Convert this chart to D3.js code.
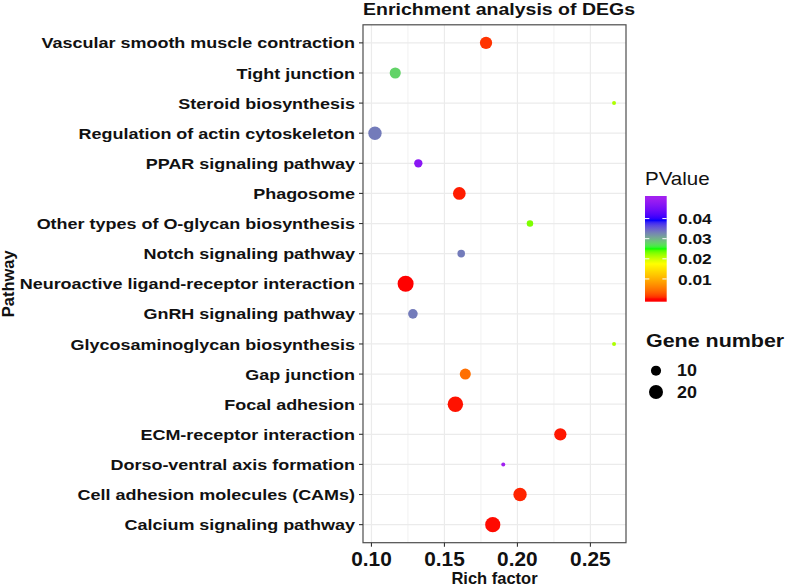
<!DOCTYPE html>
<html><head><meta charset="utf-8">
<script src="https://cdn.jsdelivr.net/npm/d3@7/dist/d3.min.js"></script>
<style>html,body{margin:0;padding:0;background:#fff;} svg{display:block;}</style>
</head><body>
<svg id="chart" width="787" height="588"></svg>
<script>
// ---------- data ----------
const pathways = ["Vascular smooth muscle contraction","Tight junction","Steroid biosynthesis","Regulation of actin cytoskeleton","PPAR signaling pathway","Phagosome","Other types of O-glycan biosynthesis","Notch signaling pathway","Neuroactive ligand-receptor interaction","GnRH signaling pathway","Glycosaminoglycan biosynthesis","Gap junction","Focal adhesion","ECM-receptor interaction","Dorso-ventral axis formation","Cell adhesion molecules (CAMs)","Calcium signaling pathway"];
const richFactor = [0.1785,0.1163,0.2662,0.1024,0.1321,0.1602,0.2086,0.1615,0.1234,0.1284,0.2662,0.1643,0.1575,0.2294,0.1903,0.2018,0.1831];
const geneNumber = [15,12,4,18,7,16,5,6,27,9,4,12,25,15,4,18,24];
const pValue = [0.0011,0.0278,0.0213,0.0334,0.0472,0.0004,0.023,0.0334,0.00001,0.0334,0.0213,0.0045,0.0002,0.0003,0.0499,0.0006,0.0001];
const xTicks = [0.10,0.15,0.20,0.25];
const xMinor = [0.125,0.175,0.225];
const pBreaks = [0.01,0.02,0.03,0.04];
const sizeBreaks = [10,20];
const colours = ["red","orange","yellow","#00ff00","blue","#a020f0"];
const colourStops = [0, 0.009, 0.0175, 0.025, 0.039]; // last stop = max p

// ---------- layout ----------
const svg = d3.select("#chart");
const P = {l:363, r:626, t:24.8, b:542.7};
const FONT = "'Liberation Sans', Arial, sans-serif";

const data = pathways.map((p,i)=>({p, x:richFactor[i], n:geneNumber[i], pv:pValue[i]}));

const ext = d3.extent(richFactor), pad = (ext[1]-ext[0])*0.05;
const x = d3.scaleLinear().domain([ext[0]-pad, ext[1]+pad]).range([P.l, P.r]);
const y = d3.scalePoint().domain(pathways).range([P.t, P.b]).padding(0.6);

const pExt = d3.extent(pValue);
const colour = d3.scaleLinear()
  .domain(colourStops.concat([pExt[1]]))
  .range(colours).interpolate(d3.interpolateLab).clamp(true);

const nExt = d3.extent(geneNumber);
const nNorm = d3.scaleLinear().domain(nExt).range([0,1]);
const rArea = d3.scaleSqrt().domain([0,1]).range([2,8]);
const radius = n => rArea(nNorm(n));

function txt(g, xx, yy, s, o){
  const t = g.append("text")
    .attr("transform", `translate(${xx},${yy}) ${o.rot?`rotate(${o.rot})`:""} scale(${o.sx||1},1)`)
    .attr("font-family", FONT).attr("font-size", o.fs)
    .attr("font-weight", o.bold?"bold":"normal")
    .attr("fill", o.fill||"#111")
    .attr("text-anchor", o.anchor||"start")
    .text(s);
  if(o.dy) t.attr("dy", o.dy);
  return t;
}

// grid
const grid = svg.append("g");
grid.selectAll("line.minor").data(xMinor).join("line")
  .attr("x1",d=>x(d)).attr("x2",d=>x(d)).attr("y1",P.t).attr("y2",P.b)
  .attr("stroke","#ebebeb").attr("stroke-width",0.7);
grid.selectAll("line.majx").data(xTicks).join("line")
  .attr("x1",d=>x(d)).attr("x2",d=>x(d)).attr("y1",P.t).attr("y2",P.b)
  .attr("stroke","#ebebeb").attr("stroke-width",1.2);
grid.selectAll("line.majy").data(pathways).join("line")
  .attr("x1",P.l).attr("x2",P.r).attr("y1",d=>y(d)).attr("y2",d=>y(d))
  .attr("stroke","#ebebeb").attr("stroke-width",1.2);

// points
svg.append("g").selectAll("circle").data(data).join("circle")
  .attr("cx",d=>x(d.x)).attr("cy",d=>y(d.p)).attr("r",d=>radius(d.n))
  .attr("fill",d=>colour(d.pv));

// border
svg.append("rect").attr("x",P.l).attr("y",P.t).attr("width",P.r-P.l).attr("height",P.b-P.t)
  .attr("fill","none").attr("stroke","#4d4d4d").attr("stroke-width",1.2);

// axes
const ax = svg.append("g");
ax.selectAll("line.xt").data(xTicks).join("line")
  .attr("x1",d=>x(d)).attr("x2",d=>x(d)).attr("y1",P.b).attr("y2",P.b+4)
  .attr("stroke","#333").attr("stroke-width",1.1);
ax.selectAll("line.yt").data(pathways).join("line")
  .attr("x1",P.l-4).attr("x2",P.l).attr("y1",d=>y(d)).attr("y2",d=>y(d))
  .attr("stroke","#333").attr("stroke-width",1.1);
pathways.forEach(p=>txt(ax, 355, y(p), p, {fs:15.5, bold:true, sx:1.16, anchor:"end", dy:"0.36em"}));
xTicks.forEach(v=>txt(ax, x(v), 565.7, d3.format(".2f")(v), {fs:19.5, bold:true, sx:1.07, anchor:"middle"}));

// titles
txt(svg, (P.l+P.r)/2, 584, "Rich factor", {fs:16.5, bold:true, anchor:"middle"});
txt(svg, 13.5, (P.t+P.b)/2, "Pathway", {fs:16.5, bold:true, anchor:"middle", rot:-90});
txt(svg, P.l, 15, "Enrichment analysis of DEGs", {fs:16, bold:true, sx:1.22});

// colour legend
const L = svg.append("g");
txt(L, 645, 185, "PValue", {fs:18, sx:1.14});
const bar = {x:645, y:196, w:21.7, h:105.7, nbin:20};
const defs = svg.append("defs");
const grad = defs.append("linearGradient").attr("id","pg").attr("x1",0).attr("x2",0).attr("y1",1).attr("y2",0);
const nStops = 60;
d3.range(nStops+1).forEach(i=>{
  const v = pExt[0] + i*(pExt[1]-pExt[0])/nStops;
  const off = (0.5 + (bar.nbin-1)*i/nStops)/bar.nbin;
  grad.append("stop").attr("offset",off).attr("stop-color",colour(v));
});
L.append("rect").attr("x",bar.x).attr("y",bar.y).attr("width",bar.w).attr("height",bar.h).attr("fill","url(#pg)");
const barPos = d3.scaleLinear().domain(pExt).range([bar.y+bar.h-bar.h*0.5/bar.nbin, bar.y+bar.h*0.5/bar.nbin]);
pBreaks.forEach(v=>{
  const yy = barPos(v);
  L.append("line").attr("x1",bar.x).attr("x2",bar.x+bar.w/5).attr("y1",yy).attr("y2",yy).attr("stroke","#fff").attr("stroke-width",1);
  L.append("line").attr("x1",bar.x+bar.w*4/5).attr("x2",bar.x+bar.w).attr("y1",yy).attr("y2",yy).attr("stroke","#fff").attr("stroke-width",1);
  txt(L, 678, yy, d3.format(".2f")(v), {fs:15.5, bold:true, sx:1.12, dy:"0.36em"});
});

// size legend
txt(L, 646, 346.7, "Gene number", {fs:18.5, bold:true, sx:1.16});
sizeBreaks.forEach((n,i)=>{
  const yy = 370.7 + i*21.3;
  L.append("circle").attr("cx",656).attr("cy",yy).attr("r",radius(n)).attr("fill","#000");
  txt(L, 677, yy, String(n), {fs:16, bold:true, sx:1.12, dy:"0.36em"});
});
</script>
</body></html>
